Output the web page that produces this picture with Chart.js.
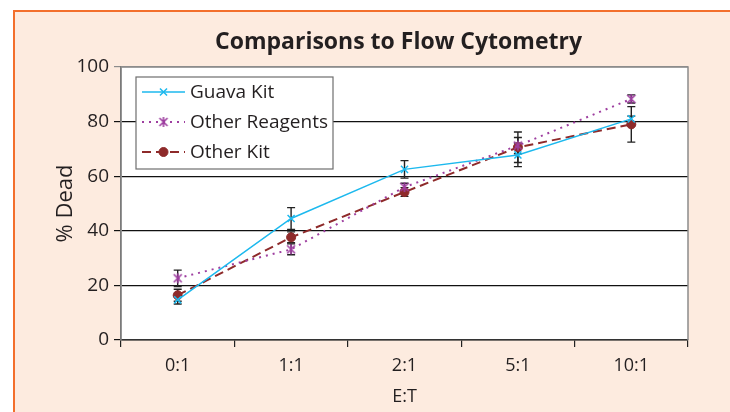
<!DOCTYPE html>
<html><head><meta charset="utf-8">
<script src="https://cdn.jsdelivr.net/npm/chart.js@4"></script>
<style>
html,body{margin:0;padding:0;background:#fff;overflow:hidden;}
#frame{position:absolute;left:13px;top:10px;width:717px;height:402px;background:#FDEBDF;border-left:2px solid #F36F2C;border-top:2px solid #F36F2C;box-sizing:border-box;}
#wrap{position:absolute;left:0;top:0;width:730px;height:412px;}
</style></head><body>
<div id="frame"></div>
<div id="wrap"><canvas id="c" width="730" height="412"></canvas></div>
<script>
const categories = ['0:1', '1:1', '2:1', '5:1', '10:1'];
const seriesNames = ['Guava Kit', 'Other Reagents', 'Other Kit'];
const guavaKit = [14.7, 44.5, 62.5, 67.8, 81];
const guavaErr = [1.5, 4, 3.2, 4.3, 1];
const otherReagents = [22.6, 33.2, 56, 71.2, 88.3];
const reagentsErr = [3, 2, 1.4, 3, 1.5];
const otherKit = [16.4, 37.6, 54.2, 70.6, 79];
const kitErr = [2.2, 2, 1.6, 5.6, 6.5];
const yTicks = [0, 20, 40, 60, 80, 100];
const titleText = 'Comparisons to Flow Cytometry';
const yTitle = '% Dead';
const xTitle = 'E:T';

const FONT = "'Open Sans', 'Noto Sans', sans-serif";
const TEXT = '#231F20';

// Excel-style "star" marker: an x with a vertical bar
function starMarker(color, r) {
  const c = document.createElement('canvas');
  const s = 2 * r + 4;
  c.width = s; c.height = s;
  const g = c.getContext('2d');
  g.strokeStyle = color; g.lineWidth = 1.6;
  const m = s / 2;
  g.beginPath();
  g.moveTo(m - r * 0.8, m - r * 0.8); g.lineTo(m + r * 0.8, m + r * 0.8);
  g.moveTo(m + r * 0.8, m - r * 0.8); g.lineTo(m - r * 0.8, m + r * 0.8);
  g.moveTo(m, m - r); g.lineTo(m, m + r);
  g.stroke();
  return c;
}

const plotBg = {
  id: 'plotBg',
  beforeDraw(chart) {
    const {ctx, chartArea: a} = chart;
    ctx.save();
    ctx.fillStyle = '#ffffff';
    ctx.fillRect(a.left, a.top, a.right - a.left, a.bottom - a.top);
    ctx.restore();
  },
  afterDraw(chart) {
    const {ctx, chartArea: a} = chart;
    ctx.save();
    ctx.strokeStyle = '#8C8C8C';
    ctx.lineWidth = 1.5;
    ctx.beginPath();
    ctx.moveTo(a.left, a.top); ctx.lineTo(a.right, a.top); ctx.lineTo(a.right, a.bottom);
    ctx.stroke();
    // title centred over the plot area
    ctx.fillStyle = TEXT;
    ctx.font = "bold 23px " + FONT;
    ctx.textAlign = 'center';
    ctx.textBaseline = 'middle';
    ctx.fillText(titleText, (a.left + a.right) / 2 - 6, a.top - 25);
    ctx.restore();
  }
};

const errorBars = {
  id: 'errorBars',
  beforeDatasetsDraw(chart) {
    const {ctx} = chart;
    const xs = chart.scales.x, ys = chart.scales.y;
    ctx.save();
    ctx.strokeStyle = '#222222';
    ctx.lineWidth = 1.4;
    chart.data.datasets.forEach(ds => {
      ds.data.forEach((v, i) => {
        const e = ds.errors[i];
        const x = xs.getPixelForValue(i);
        const yt = ys.getPixelForValue(v + e), yb = ys.getPixelForValue(v - e);
        ctx.beginPath();
        ctx.moveTo(x, yt); ctx.lineTo(x, yb);
        ctx.moveTo(x - 4, yt); ctx.lineTo(x + 4, yt);
        ctx.moveTo(x - 4, yb); ctx.lineTo(x + 4, yb);
        ctx.stroke();
      });
    });
    ctx.restore();
  }
};

const boxLegend = {
  id: 'boxLegend',
  afterDraw(chart) {
    const {ctx, chartArea: a} = chart;
    const left = a.left + 15, top = a.top + 10, w = 197, h = 92;
    ctx.save();
    ctx.fillStyle = '#ffffff';
    ctx.fillRect(left, top, w, h);
    ctx.strokeStyle = '#6E6E6E';
    ctx.lineWidth = 1.2;
    ctx.strokeRect(left, top, w, h);
    ctx.font = "19px " + FONT;
    ctx.textBaseline = 'middle';
    chart.data.datasets.forEach((ds, i) => {
      const y = top + 15 + i * 30;
      const x0 = left + 6, x1 = left + 49, xm = (x0 + x1) / 2;
      ctx.save();
      ctx.strokeStyle = ds.borderColor;
      ctx.lineWidth = ds.borderWidth;
      ctx.setLineDash(ds.borderDash || []);
      ctx.beginPath(); ctx.moveTo(x0, y); ctx.lineTo(x1, y); ctx.stroke();
      ctx.setLineDash([]);
      ctx.strokeStyle = ds.pointBorderColor;
      ctx.fillStyle = ds.backgroundColor;
      ctx.lineWidth = ds.pointBorderWidth;
      Chart.helpers.drawPoint(ctx, {pointStyle: ds.pointStyle, radius: ds.pointRadius, borderWidth: ds.pointBorderWidth, rotation: 0}, xm, y);
      ctx.restore();
      ctx.fillStyle = TEXT;
      ctx.fillText(ds.label, left + 54, y + 1);
    });
    ctx.restore();
  }
};

const datasets = [
  {label: seriesNames[0], data: guavaKit, errors: guavaErr, borderColor: '#1DB9EE', backgroundColor: '#1DB9EE',
   borderWidth: 1.5, pointStyle: 'crossRot', pointRadius: 5, pointBorderWidth: 1.5, pointBorderColor: '#1DB9EE'},
  {label: seriesNames[1], data: otherReagents, errors: reagentsErr, borderColor: '#9E3FA0', backgroundColor: '#9E3FA0',
   borderWidth: 2, borderDash: [2, 5], pointStyle: starMarker('#9E3FA0', 5), pointRadius: 5, pointBorderWidth: 1.6, pointBorderColor: '#9E3FA0'},
  {label: seriesNames[2], data: otherKit, errors: kitErr, borderColor: '#8E2A2A', backgroundColor: '#8E2A2A',
   borderWidth: 2, borderDash: [9, 5], pointStyle: 'circle', pointRadius: 4.5, pointBorderWidth: 1, pointBorderColor: '#8E2A2A'}
];

new Chart(document.getElementById('c'), {
  type: 'line',
  data: {labels: categories, datasets},
  plugins: [plotBg, errorBars, boxLegend],
  options: {
    responsive: false,
    animation: false,
    layout: {padding: {left: 0, right: 42, top: 67, bottom: 0}},
    elements: {line: {tension: 0, fill: false}},
    plugins: {
      legend: {display: false},
      tooltip: {enabled: false},
      title: {display: false}
    },
    scales: {
      x: {
        offset: true,
        grid: {display: true, drawOnChartArea: false, offset: true, tickLength: 7, color: '#222', lineWidth: 1.2},
        border: {display: true, color: '#333', width: 1.5},
        ticks: {color: TEXT, font: {family: FONT, size: 18}, padding: 8, maxRotation: 0},
        title: {display: true, text: xTitle, color: TEXT, font: {family: FONT, size: 18}, padding: {top: 4, bottom: 4}},
        afterFit(s) { s.height = 72; }
      },
      y: {
        min: 0, max: 100,
        afterBuildTicks(s) { s.ticks = yTicks.map(v => ({value: v})); },
        grid: {display: true, drawOnChartArea: true, tickLength: 7,
          color: c => (c.tick && c.tick.value === 100) ? '#8C8C8C' : '#111',
          lineWidth: 1.2},
        border: {display: true, color: '#7A7A7A', width: 1.8},
        ticks: {color: TEXT, font: {family: FONT, size: 19}, padding: 5},
        title: {display: true, text: yTitle, color: TEXT, font: {family: FONT, size: 22}, padding: {top: 53, bottom: 0}},
        afterFit(s) { s.width = 121; }
      }
    }
  }
});
</script>
</body></html>
